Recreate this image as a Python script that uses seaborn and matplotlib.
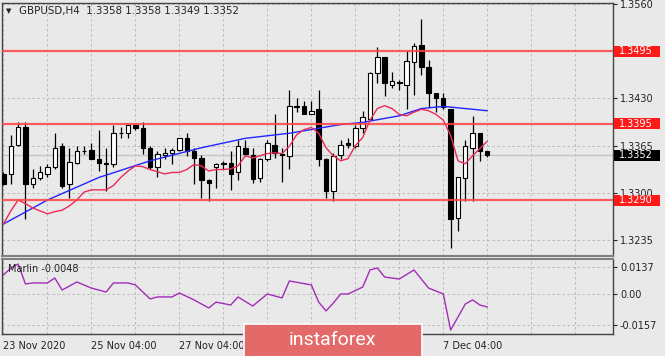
import pandas as pd
import seaborn as sns
import matplotlib
matplotlib.use("Agg")
import matplotlib.pyplot as plt
import matplotlib.transforms as mtransforms
from matplotlib.patches import Rectangle

# GBPUSD H4 candles (bar 0 = 23 Nov 04:00)
opens = [1.3326, 1.3326, 1.3366, 1.3390, 1.3312, 1.3321, 1.3326, 1.3336, 1.3365, 1.3312,
         1.3341, 1.3358, 1.3359, 1.3346, 1.3341, 1.3339, 1.3383, 1.3382, 1.3394, 1.3389,
         1.3362, 1.3335, 1.3352, 1.3355, 1.3359, 1.3375, 1.3357, 1.3348, 1.3317, 1.3336,
         1.3341, 1.3341, 1.3328, 1.3362, 1.3352, 1.3321, 1.3347, 1.3366, 1.3354, 1.3350,
         1.3420, 1.3419, 1.3409, 1.3415, 1.3346, 1.3303, 1.3352, 1.3369, 1.3364, 1.3389,
         1.3401, 1.3465, 1.3487, 1.3449, 1.3452, 1.3449, 1.3480, 1.3503, 1.3473, 1.3437,
         1.3430, 1.3416, 1.3265, 1.3321, 1.3362, 1.3382, 1.3358]
highs = [1.3329, 1.3379, 1.3397, 1.3397, 1.3333, 1.3337, 1.3340, 1.3382, 1.3369, 1.3361,
         1.3365, 1.3365, 1.3368, 1.3386, 1.3361, 1.3394, 1.3390, 1.3394, 1.3395, 1.3397,
         1.3365, 1.3358, 1.3361, 1.3362, 1.3376, 1.3383, 1.3361, 1.3352, 1.3319, 1.3341,
         1.3344, 1.3357, 1.3373, 1.3372, 1.3361, 1.3348, 1.3372, 1.3408, 1.3362, 1.3442,
         1.3431, 1.3427, 1.3426, 1.3441, 1.3348, 1.3355, 1.3373, 1.3376, 1.3393, 1.3413,
         1.3466, 1.3501, 1.3487, 1.3467, 1.3456, 1.3495, 1.3506, 1.3539, 1.3483, 1.3437,
         1.3437, 1.3416, 1.3322, 1.3372, 1.3406, 1.3382, 1.3358]
lows = [1.3311, 1.3312, 1.3364, 1.3264, 1.3307, 1.3317, 1.3322, 1.3333, 1.3307, 1.3293,
        1.3340, 1.3354, 1.3346, 1.3330, 1.3303, 1.3335, 1.3376, 1.3376, 1.3387, 1.3354,
        1.3333, 1.3322, 1.3347, 1.3340, 1.3358, 1.3351, 1.3312, 1.3293, 1.3289, 1.3307,
        1.3333, 1.3304, 1.3317, 1.3351, 1.3314, 1.3315, 1.3344, 1.3348, 1.3315, 1.3333,
        1.3411, 1.3408, 1.3408, 1.3337, 1.3293, 1.3288, 1.3347, 1.3362, 1.3362, 1.3382,
        1.3400, 1.3451, 1.3433, 1.3444, 1.3442, 1.3415, 1.3434, 1.3462, 1.3418, 1.3411,
        1.3416, 1.3224, 1.3247, 1.3289, 1.3289, 1.3344, 1.3349]
closes = [1.3312, 1.3365, 1.3391, 1.3312, 1.3321, 1.3328, 1.3335, 1.3362, 1.3310, 1.3343,
          1.3358, 1.3357, 1.3347, 1.3341, 1.3340, 1.3382, 1.3382, 1.3394, 1.3389, 1.3361,
          1.3335, 1.3354, 1.3355, 1.3359, 1.3375, 1.3358, 1.3348, 1.3317, 1.3314, 1.3340,
          1.3340, 1.3326, 1.3364, 1.3354, 1.3319, 1.3346, 1.3368, 1.3355, 1.3352, 1.3419,
          1.3418, 1.3409, 1.3413, 1.3347, 1.3303, 1.3351, 1.3366, 1.3366, 1.3389, 1.3404,
          1.3465, 1.3487, 1.3451, 1.3454, 1.3451, 1.3481, 1.3502, 1.3473, 1.3438, 1.3430,
          1.3418, 1.3264, 1.3322, 1.3364, 1.3383, 1.3357, 1.3352]

# fast moving average (red), one value per bar
red_ma = [1.3257, 1.3275, 1.3290, 1.3285, 1.3279, 1.3275, 1.3271, 1.3274, 1.3276, 1.3282,
          1.3290, 1.3301, 1.3304, 1.3304, 1.3304, 1.3310, 1.3321, 1.3330, 1.3337, 1.3336,
          1.3332, 1.3329, 1.3326, 1.3328, 1.3328, 1.3332, 1.3339, 1.3337, 1.3330, 1.3332,
          1.3332, 1.3333, 1.3337, 1.3351, 1.3348, 1.3351, 1.3354, 1.3355, 1.3354, 1.3364,
          1.3380, 1.3387, 1.3390, 1.3382, 1.3362, 1.3351, 1.3344, 1.3347, 1.3365, 1.3376,
          1.3400, 1.3416, 1.3420, 1.3416, 1.3408, 1.3406, 1.3411, 1.3415, 1.3413, 1.3408,
          1.3400, 1.3379, 1.3344, 1.3340, 1.3351, 1.3361, 1.3371]

# slow moving average (blue)
blue_bar = [0, 6, 13, 20, 27, 33, 39, 46, 49, 54, 57, 60, 66]
blue_ma = [1.3257, 1.3290, 1.3321, 1.3344, 1.3362, 1.3375, 1.3382, 1.3394, 1.3397,
           1.3406, 1.3416, 1.3419, 1.3413]

# Marlin oscillator
marlin_bar = [0, 1, 2, 3, 4, 6, 7, 8, 10, 12, 14, 15, 17, 18, 20, 21, 23, 24, 26, 28,
              29, 31, 32, 34, 36, 38, 39, 42, 43, 44, 45, 46, 47, 49, 50, 51, 52, 54, 56, 58,
              60, 61, 63, 64, 65, 66]
marlin = [0.0096, 0.0132, 0.0152, 0.0051, 0.0056, 0.0056, 0.0081, 0.0020, 0.0061, 0.0030,
          0.0010, 0.0056, 0.0056, 0.0046, -0.0025, -0.0015, -0.0015, 0.0005, -0.0030, -0.0071,
          -0.0041, -0.0056, -0.0015, -0.0061, 0.0000, -0.0020, 0.0066, 0.0046, -0.0041, -0.0086,
          -0.0046, 0.0000, 0.0000, 0.0035, 0.0122, 0.0132, 0.0086, 0.0076, 0.0122, 0.0030,
          0.0000, -0.0183, -0.0051, -0.0030, -0.0056, -0.0066]

levels = [1.3495, 1.3395, 1.3290]
last_price = 1.3352
price_ticks = [1.3560, 1.3495, 1.3430, 1.3365, 1.3300, 1.3235]
date_bars = [0, 12, 24, 36, 48, 60]
# labels at bars 36 and 48 sit under the watermark and are not visible
date_labels = ["23 Nov 2020", "25 Nov 04:00", "27 Nov 04:00", "", "", "7 Dec 04:00"]
marlin_ticks = [0.0137, 0.0, -0.0157]
marlin_labels = ["0.0137", "0.00", "-0.0157"]

BG = "#e9e9e9"
sns.set_theme(style="white")
plt.rcParams['font.family'] = ['DejaVu Sans']

df = pd.DataFrame({"bar": range(len(opens)), "open": opens, "high": highs,
                   "low": lows, "close": closes})

W, H = 665, 356
fig = plt.figure(figsize=(6.65, 3.56), dpi=100)
fig.patch.set_facecolor(BG)
ax = fig.add_axes([2 / W, 1 - 256 / H, 611 / W, 253 / H])
axm = fig.add_axes([2 / W, 1 - 334 / H, 611 / W, 75 / H], sharex=ax)

xlim = (-0.2, 83.15)
grid_kw = dict(color="#b4b4b4", lw=0.6, linestyle=(0, (3, 3)))

for a in (ax, axm):
    a.set_facecolor(BG)
    for s in a.spines.values():
        s.set_color("#444444")
        s.set_linewidth(1)
    a.set_xticks(date_bars)
    a.set_xticks([6, 18, 30, 42, 54, 66, 72, 78], minor=True)
    a.grid(True, which="both", axis="x", **grid_kw)
    a.grid(True, which="major", axis="y", **grid_kw)
    a.yaxis.tick_right()
    a.tick_params(axis="y", which="both", length=3, width=0.8, pad=2,
                  labelsize=7, colors="#222222", direction="out")
    a.set_axisbelow(True)
ax.spines["bottom"].set_color("#808080")
ax.spines["bottom"].set_linewidth(1.5)
axm.spines["top"].set_color("#808080")
axm.spines["top"].set_linewidth(1.5)

# candles
ax.axhline(last_price, color="#c4c4c4", lw=1, zorder=1)
ax.vlines(df["bar"], df["low"], df["high"], color="black", lw=0.9, zorder=3)
up = df[df["close"] >= df["open"]]
dn = df[df["close"] < df["open"]]
ax.bar(up["bar"], (up["close"] - up["open"]).clip(lower=0.00004), bottom=up["open"],
       width=0.6, color="white", edgecolor="black", lw=0.8, zorder=4)
ax.bar(dn["bar"], (dn["open"] - dn["close"]).clip(lower=0.00004), bottom=dn["close"],
       width=0.6, color="black", edgecolor="black", lw=0.8, zorder=4)

sns.lineplot(x=blue_bar, y=blue_ma, ax=ax, color="#2424ff", lw=1, zorder=5)
sns.lineplot(x=list(range(len(red_ma))), y=red_ma, ax=ax, color="#ec2a55", lw=1, zorder=5)

for lvl in levels:
    ax.axhline(lvl, color="#ff4545", lw=1.6, alpha=0.85, zorder=6)

ax.set_xlim(*xlim)
ax.set_ylim(1.32129, 1.35614)
ax.set_yticks(price_ticks)
ax.set_yticklabels([f"{p:.4f}" for p in price_ticks])
ax.tick_params(axis="x", which="both", length=0, labelbottom=False)
ax.set_xlabel("")
ax.set_ylabel("")

# price boxes on the right axis
tr = mtransforms.blended_transform_factory(ax.transAxes, ax.transData)
box_h = 0.00152
for lvl, col in [(levels[0], "#ff1a1a"), (levels[1], "#ff1a1a"), (levels[2], "#ff1a1a"),
                 (last_price, "black")]:
    ax.add_patch(Rectangle((1.0016, lvl - box_h / 2), 0.0755, box_h, transform=tr,
                           facecolor=col, edgecolor="none", clip_on=False, zorder=10))
    ax.text(1.0095, lvl, f"{lvl:.4f}", transform=tr, color="white", fontsize=7,
            va="center", ha="left", clip_on=False, zorder=11)

# Marlin panel
sns.lineplot(x=marlin_bar, y=marlin, ax=axm, color="#a22db8", lw=1)
axm.set_ylim(-0.0203, 0.01775)
axm.set_yticks(marlin_ticks)
axm.set_yticklabels(marlin_labels)
axm.set_xticklabels(date_labels)
axm.tick_params(axis="x", which="major", length=3, width=0.8, pad=2, labelsize=7,
                colors="#222222", direction="out")
axm.tick_params(axis="x", which="minor", length=0)
for lab in axm.get_xticklabels():
    lab.set_ha("left")
axm.set_xlim(*xlim)
axm.set_xlabel("")
axm.set_ylabel("")
axm.text(6 / 611, 0.87, "Marlin -0.0048", transform=axm.transAxes, fontsize=7,
         color="#222222", va="center", ha="left")

# header
fig.text(6 / W, 1 - 11 / H, "\u25bc", fontsize=5, color="#222222", va="center")
fig.text(19 / W, 1 - 11 / H, "GBPUSD,H4  1.3358 1.3358 1.3349 1.3352", fontsize=7.4,
         color="#222222", va="center")

# watermark
fig.add_artist(Rectangle((244 / W, -0.01), 178 / W, 32 / H + 0.01, transform=fig.transFigure,
                         facecolor="#e46a6a", edgecolor="white", lw=1.2, zorder=20))
fig.text(332 / W, 1 - 340 / H, "instaforex", color="white", fontsize=14,
         family=["Roboto", "DejaVu Sans"], ha="center", va="center", zorder=21)

fig.savefig("out.png", dpi=100, facecolor=BG)
